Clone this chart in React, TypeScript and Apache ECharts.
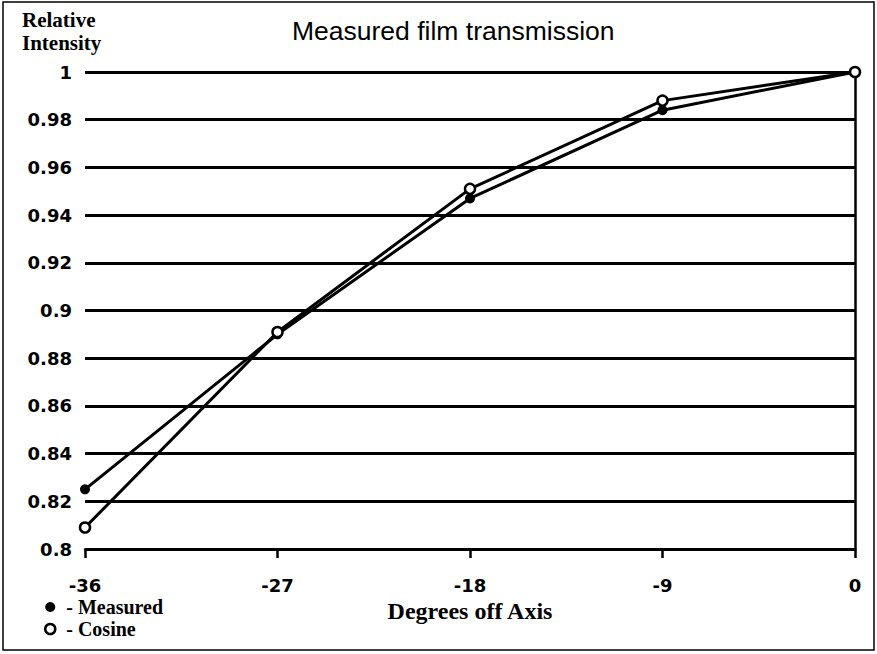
import React, { useEffect, useRef } from "react";
import * as echarts from "echarts";

const degrees = [-36, -27, -18, -9, 0];
const measured = [0.825, 0.89, 0.947, 0.984, 1.0];
const cosine = [0.809, 0.891, 0.951, 0.988, 1.0];
const titleText = "Measured film transmission";
const yName = "Relative\nIntensity";
const xName = "Degrees off Axis";

const SERIF = "'Liberation Serif', 'Times New Roman', serif";
const SANS = "'DejaVu Sans', sans-serif";

export default function App() {
  const ref = useRef<HTMLDivElement>(null);
  useEffect(() => {
    if (!ref.current) return;
    const chart = echarts.init(ref.current, null, { renderer: "svg" });
    const mData = degrees.map((d, i) => [d, measured[i]]);
    const cData = degrees.map((d, i) => [d, cosine[i]]);
    chart.setOption({
      animation: false,
      backgroundColor: "#ffffff",
      title: {
        text: titleText,
        left: 287,
        top: 12,
        textStyle: { fontFamily: "'Liberation Sans', Arial, sans-serif", fontSize: 26.5, fontWeight: "normal", color: "#000" },
      },
      grid: { left: 85, right: 22, top: 72, bottom: 105, containLabel: false },
      xAxis: {
        type: "value",
        min: -36,
        max: 0,
        interval: 9,
        name: xName,
        nameLocation: "middle",
        nameGap: 49,
        nameTextStyle: { fontFamily: SERIF, fontWeight: "bold", fontSize: 24, color: "#000", verticalAlign: "top" },
        axisLine: { show: true, lineStyle: { color: "#000", width: 2.5 } },
        axisTick: { show: true, length: 9, lineStyle: { color: "#000", width: 2.5 } },
        axisLabel: { margin: 27, fontFamily: SANS, fontWeight: "bold", fontSize: 18, color: "#000" },
        splitLine: { show: false },
      },
      yAxis: {
        type: "value",
        min: 0.8,
        max: 1,
        interval: 0.02,
        axisLine: { show: true, lineStyle: { color: "#000", width: 2.5 } },
        axisTick: { show: true, length: 8, lineStyle: { color: "#000", width: 2 } },
        axisLabel: { margin: 13, fontFamily: SANS, fontWeight: "bold", fontSize: 18, color: "#000" },
        splitLine: { show: true, lineStyle: { color: "#000", width: 2.8 } },
      },
      legend: {
        orient: "vertical",
        left: 39,
        top: 592,
        itemGap: 2,
        itemWidth: 10,
        itemHeight: 10,
        formatter: "- {name}",
        textStyle: { fontFamily: SERIF, fontWeight: "bold", fontSize: 20, lineHeight: 20, color: "#000", padding: [0, 0, 0, 6] },
        data: [
          { name: "Measured", icon: "circle", itemStyle: { color: "#000", borderColor: "#000", borderWidth: 0 } },
          { name: "Cosine", icon: "circle", itemStyle: { color: "#fff", borderColor: "#000", borderWidth: 2.5 } },
        ],
      },
      series: [
        {
          name: "Measured",
          type: "line",
          data: mData,
          symbol: "circle",
          symbolSize: 10,
          lineStyle: { color: "#000", width: 3 },
          itemStyle: { color: "#000", borderColor: "#000", borderWidth: 0 },
          z: 3,
        },
        {
          name: "Cosine",
          type: "line",
          data: cData,
          symbol: "circle",
          symbolSize: 10,
          showAllSymbol: true,
          lineStyle: { color: "#000", width: 3 },
          itemStyle: { color: "#fff", borderColor: "#000", borderWidth: 2.5 },
          z: 4,
        },
      ],
      graphic: [
        {
          type: "rect",
          shape: { x: 3, y: 2, width: 871, height: 648 },
          style: { fill: "none", stroke: "#000", lineWidth: 1.5 },
          silent: true,
        },
        {
          type: "text",
          left: 22,
          top: 8,
          style: { text: yName, fontFamily: SERIF, fontWeight: "bold", fontSize: 21, lineHeight: 23, fill: "#000" },
        },
      ],
    });
    return () => chart.dispose();
  }, []);
  return <div ref={ref} style={{ position: "fixed", left: 0, top: 0, width: 877, height: 654 }} />;
}
